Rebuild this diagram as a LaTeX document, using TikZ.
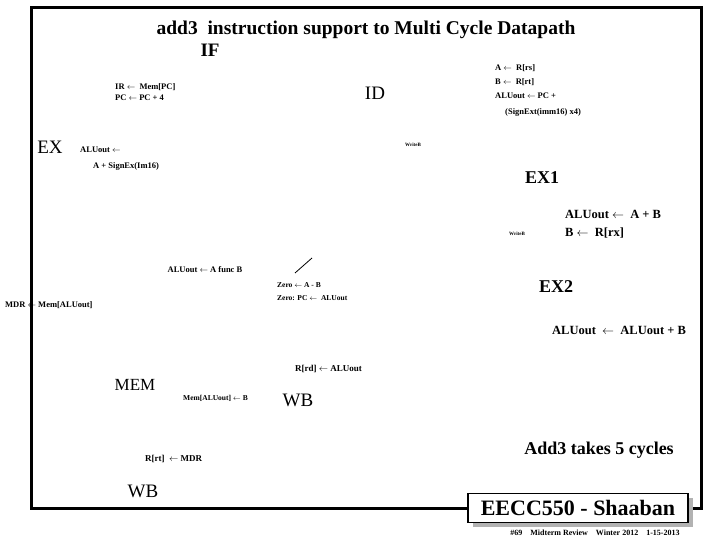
\documentclass[tikz,border=0pt]{standalone}
\usepackage{fontspec}
\setmainfont{Liberation Serif}
\begin{document}
\begin{tikzpicture}[x=1pt,y=-1pt,
 t/.style={font=\bfseries\fontsize{#1}{#1}\selectfont,inner sep=0pt},
 l/.style={t=#1,anchor=west}]
\useasboundingbox (0,0) rectangle (720,540);
\draw[line width=3pt] (468,508) -| (31,8) -| (701,508) -- (688,508);
\fill[gray!60] (473,498) rectangle (693,527);
\node[draw,line width=1.5pt,fill=white,minimum width=220pt,minimum height=29pt,inner sep=0pt,font=\bfseries\fontsize{22}{22}\selectfont] (foot) at (578,508) {EECC550 - Shaaban};
\node[t=8] (fl) at (595,533) {\#69\quad Midterm Review\quad Winter 2012\quad 1-15-2013};
\node[t=19.5] (title) at (366,30) {add3\ \ instruction support to Multi Cycle Datapath};
\node[t=19] (if) at (210,50) {IF};
\node[l=8.5] (if1) at (115,87) {IR $\leftarrow$\ \ Mem[PC]};
\node[l=8.5] (if2) at (115,98) {PC $\leftarrow$ PC + 4};
\node[t=18,font=\fontsize{19}{19}\selectfont] (id) at (375,93) {ID};
\node[l=8.5] (id1) at (495,68) {A $\leftarrow$\ \ R[rs]};
\node[l=8.5] (id2) at (495,82) {B $\leftarrow$\ \ R[rt]};
\node[l=8.5] (id3) at (495,96) {ALUout $\leftarrow$ PC +};
\node[l=8.5] (id4) at (505,112) {(SignExt(imm16) x4)};
\node[t=18,font=\fontsize{19}{19}\selectfont] (ex) at (50,147) {EX};
\node[l=8.5] (ex1) at (80,150) {ALUout $\leftarrow$};
\node[l=8.5] (ex2) at (93,166) {A + SignEx(Im16)};
\node[t=5] (wb1) at (413,145) {WriteB};
\node[t=18] (ex1h) at (542,178) {EX1};
\node[l=12.5] (e11) at (565,214) {ALUout $\leftarrow$\ \ A + B};
\node[l=12.5] (e12) at (565,233) {B $\leftarrow$\ \ R[rx]};
\node[t=5] (wb2) at (517,234) {WriteB};
\node[t=8.5] (fn) at (205,270) {ALUout $\leftarrow$ A func B};
\coordinate (s1) at (295,273); \coordinate (s2) at (312,258);
\draw[thick] (s1) -- (s2);
\node[l=7.5] (z1) at (277,285) {Zero $\leftarrow$ A - B};
\node[l=7.5] (z2) at (277,298) {Zero: PC $\leftarrow$\ \ ALUout};
\node[l=8.5] (mdr) at (5,305) {MDR $\leftarrow$\ Mem[ALUout]};
\node[t=18] (ex2h) at (556,287) {EX2};
\node[l=12.5] (e21) at (552,330) {ALUout\ \ $\leftarrow$\ \ ALUout + B};
\node[l=9] (rd) at (295,369) {R[rd] $\leftarrow$ ALUout};
\node[t=16,font=\fontsize{17}{17}\selectfont] (mem) at (135,385) {MEM};
\node[l=7.5] (mw) at (183,398) {Mem[ALUout] $\leftarrow$ B};
\node[t=18,font=\fontsize{19}{19}\selectfont] (wb) at (298,400) {WB};
\node[t=18] (add3) at (599,450) {Add3 takes 5 cycles};
\node[l=9] (rt) at (145,459) {R[rt]\ \ $\leftarrow$ MDR};
\node[t=18,font=\fontsize{19}{19}\selectfont] (wb3) at (143,491) {WB};
\end{tikzpicture}
\end{document}
